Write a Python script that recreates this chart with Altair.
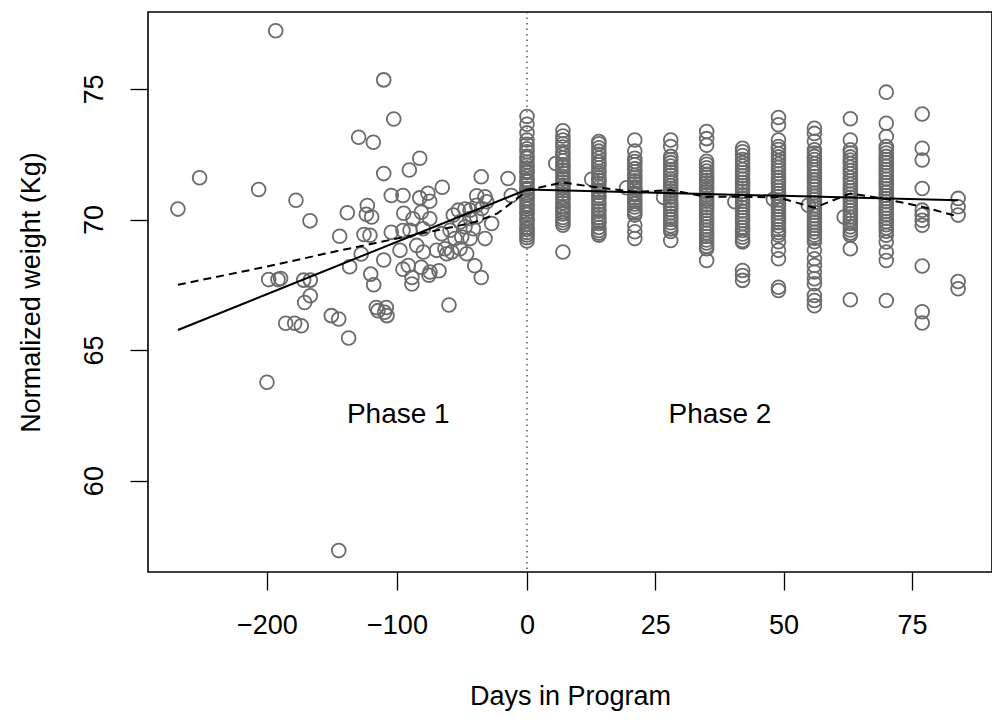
import altair as alt
import pandas as pd

# ---------------- data (days, normalized weight in kg) ----------------
phase1_days = [-268.5, -251.8, -206.4, -193.3, -177.7, -166.9, -138.2, -122.8, -123.6, -144.1,
               -125.4, -129.5, -118.2, -110.2, -102.5, -82.5, -90.5, -110.2, -104.4, -95.4,
               -82.5, -76.2, -74.8, -65.2, -35.2, -14.6, -12.1, -94.8, -81.3, -87.7,
               -74.8, -104.4, -95.4, -127.5, -136.4, -110.2, -120.2, -117.9, -95.4, -88.5,
               -88.5, -81.3, -75.4, -67.7, -40.2, -35.2, -198.7, -191.5, -189.5, -171.8,
               -166.7, -166.7, -171.0, -60.0, -115.9, -108.2, -185.6, -178.7, -173.6, -150.5,
               -144.8, -114.6, -109.5, -107.7, -137.2, -200.0, -144.8, -38.7, -32.3, -56.7,
               -52.8, -47.7, -43.8, -38.7, -34.8, -31.0, -51.5, -43.8, -38.7, -47.7,
               -41.3, -27.2, -90.0, -79.8, -65.6, -59.2, -55.4, -50.2, -43.8, -32.3,
               -97.7, -84.8, -79.8, -69.5, -63.1, -57.9, -51.5, -46.4, -61.8, -91.3,
               -74.6, -119.5, -120.8]
phase1_weights = [70.40, 71.60, 71.15, 77.23, 70.74, 69.95, 70.26, 70.54, 70.20, 69.36,
                  69.43, 73.15, 72.96, 75.35, 73.85, 72.35, 71.90, 71.76, 70.92, 70.92,
                  70.83, 71.01, 70.70, 71.24, 71.64, 71.57, 70.92, 70.24, 70.28, 70.03,
                  70.03, 69.51, 69.58, 68.68, 68.19, 68.45, 67.91, 67.50, 68.10, 67.78,
                  67.53, 68.17, 67.87, 68.04, 68.23, 67.78, 67.70, 67.70, 67.74, 67.68,
                  67.68, 67.08, 66.82, 66.73, 66.63, 66.63, 66.03, 66.03, 65.93, 66.32,
                  66.19, 66.51, 66.45, 66.32, 65.46, 63.77, 57.32, 70.91, 70.87, 70.17,
                  70.36, 70.40, 70.36, 70.55, 70.42, 70.68, 69.91, 70.04, 70.10, 69.72,
                  69.65, 69.85, 69.59, 69.65, 69.46, 69.59, 69.27, 69.33, 69.27, 69.27,
                  68.82, 69.01, 68.76, 68.82, 68.88, 68.76, 68.88, 68.69, 68.69, 68.24,
                  67.99, 70.10, 69.40]

w_day0 = [73.95, 73.65, 73.32, 73.05, 72.88, 72.71, 72.6, 72.42, 72.35, 72.2, 72.08, 71.97,
          71.85, 71.8, 71.66, 71.52, 71.45, 71.33, 71.2, 71.15, 71.02, 70.94, 70.81, 70.73,
          70.6, 70.52, 70.4, 70.28, 70.19, 70.05, 69.96, 69.84, 69.7, 69.62, 69.5, 69.41,
          69.3, 69.18]
w_day7 = [73.4, 73.2, 73.05, 72.9, 72.78, 72.6, 72.5, 72.37, 72.25, 72.1, 72.02, 71.9, 71.78,
          71.65, 71.55, 71.44, 71.3, 71.22, 71.1, 70.98, 70.85, 70.77, 70.64, 70.5, 70.42,
          70.3, 70.21, 70.08, 69.98, 69.88, 69.78, 68.76]
w_day14 = [72.99, 72.9, 72.75, 72.62, 72.5, 72.36, 72.2, 72.11, 71.98, 71.85, 71.76, 71.6,
           71.5, 71.38, 71.25, 71.12, 71.04, 70.9, 70.8, 70.66, 70.55, 70.4, 70.32, 70.2,
           70.07, 69.95, 69.85, 69.7, 69.58, 69.48, 69.4]
w_day21 = [73.05, 72.62, 72.35, 72.22, 72.1, 71.95, 71.83, 71.7, 71.6, 71.48, 71.37, 71.25,
           71.15, 71.02, 70.95, 70.82, 70.7, 70.6, 70.48, 70.35, 70.25, 70.17, 69.78, 69.53,
           69.27]
w_day28 = [73.05, 72.8, 72.42, 72.3, 72.18, 72.05, 71.92, 71.82, 71.7, 71.55, 71.45, 71.3,
           71.2, 71.1, 70.98, 70.86, 70.72, 70.6, 70.5, 70.38, 70.25, 70.12, 70.0, 69.88,
           69.75, 69.64, 69.54, 69.2]
w_day35 = [73.37, 73.1, 72.85, 72.23, 72.12, 71.98, 71.86, 71.73, 71.62, 71.5, 71.4, 71.28,
           71.15, 71.05, 70.93, 70.8, 70.7, 70.58, 70.45, 70.35, 70.22, 70.1, 69.98, 69.85,
           69.72, 69.6, 69.48, 69.35, 69.22, 69.1, 68.98, 68.88, 68.43]
w_day42 = [72.73, 72.6, 72.45, 72.3, 72.18, 72.05, 71.92, 71.8, 71.68, 71.55, 71.42, 71.3,
           71.2, 71.08, 70.95, 70.82, 70.7, 70.58, 70.46, 70.33, 70.2, 70.08, 69.96, 69.84,
           69.7, 69.58, 69.45, 69.32, 69.2, 69.14, 68.05, 67.86, 67.67]
w_day49 = [73.91, 73.63, 73.05, 72.8, 72.68, 72.52, 72.4, 72.25, 72.12, 72.0, 71.88, 71.75,
           71.62, 71.5, 71.38, 71.25, 71.12, 71.0, 70.88, 70.75, 70.62, 70.5, 70.38, 70.25,
           70.12, 70.0, 69.88, 69.75, 69.62, 69.5, 69.4, 69.15, 68.82, 68.5, 67.41, 67.28]
w_day56 = [73.5, 73.3, 73.0, 72.67, 72.55, 72.42, 72.3, 72.15, 72.02, 71.9, 71.78, 71.65,
           71.52, 71.4, 71.28, 71.15, 71.02, 70.9, 70.78, 70.65, 70.52, 70.4, 70.28, 70.15,
           70.02, 69.9, 69.78, 69.65, 69.52, 69.4, 69.28, 69.15, 68.82, 68.5, 68.24, 67.99,
           67.73, 67.54, 67.09, 66.9, 66.7]
w_day63 = [73.86, 73.05, 72.67, 72.55, 72.4, 72.28, 72.15, 72.0, 71.88, 71.75, 71.6, 71.48,
           71.35, 71.22, 71.1, 70.98, 70.85, 70.72, 70.6, 70.48, 70.35, 70.22, 70.1, 69.98,
           69.85, 69.72, 69.6, 69.48, 69.4, 68.88, 66.93]
w_day70 = [74.88, 73.69, 73.18, 72.8, 72.68, 72.55, 72.42, 72.3, 72.18, 72.05, 71.92, 71.8,
           71.68, 71.55, 71.42, 71.3, 71.18, 71.05, 70.92, 70.8, 70.68, 70.55, 70.42, 70.3,
           70.18, 70.05, 69.92, 69.8, 69.68, 69.55, 69.4, 69.14, 68.76, 68.43, 66.9]
w_day77 = [74.04, 72.73, 72.28, 71.19, 70.36, 70.17, 69.97, 69.78, 68.22, 66.47, 66.04]
w_day84 = [70.81, 70.49, 70.17, 67.63, 67.35]

offcol_days = [5.6, 12.6, 19.4, 26.6, 40.5, 48.0, 54.8, 61.8]
offcol_weights = [72.15, 71.54, 71.22, 70.85, 70.68, 70.78, 70.55, 70.10]

# fitted lines
solid_days = [-268.5, 0, 84]
solid_weights = [65.77, 71.15, 70.74]
dashed_days = [-268.5, -200, -150, -113, -70, -40, -23, -13, -3, 0,
               7, 14, 21, 28, 35, 42, 49, 56, 63, 70, 77, 84]
dashed_weights = [67.5, 68.2, 68.75, 69.14, 69.58, 69.9, 70.23, 70.6, 70.98, 71.13,
                  71.42, 71.22, 71.06, 71.13, 70.87, 70.87, 70.85, 70.45, 71.0, 70.78, 70.49, 70.12]

phase_labels = ["Phase 1", "Phase 2"]
phase_label_days = [-99, 37.6]
phase_label_weights = [62.5, 62.5]

x_ticks = [-200, -100, 0, 25, 50, 75]
y_ticks = [60, 65, 70, 75]

# ---------------- build tables ----------------
columns = {0: w_day0, 7: w_day7, 14: w_day14, 21: w_day21, 28: w_day28, 35: w_day35,
           42: w_day42, 49: w_day49, 56: w_day56, 63: w_day63, 70: w_day70, 77: w_day77,
           84: w_day84}
rows = [{"day": d, "kg": w} for d, w in zip(phase1_days, phase1_weights)]
for d, ws in columns.items():
    rows += [{"day": d, "kg": w} for w in ws]
rows += [{"day": d, "kg": w} for d, w in zip(offcol_days, offcol_weights)]
pts = pd.DataFrame(rows)

solid = pd.DataFrame({"day": solid_days, "kg": solid_weights})
dashed = pd.DataFrame({"day": dashed_days, "kg": dashed_weights})
labels = pd.DataFrame({"day": phase_label_days, "kg": phase_label_weights, "txt": phase_labels})
zero = pd.DataFrame({"day": [0]})

FONT = "Liberation Sans"

xenc = alt.X("day:Q",
             scale=alt.Scale(domain=[-291.5, 0, 90.6], range=[0, 379, 844], zero=False, nice=False),
             axis=alt.Axis(values=x_ticks, title="Days in Program", labelPadding=22,
                           titlePadding=45, labelFlush=False))
yenc = alt.Y("kg:Q",
             scale=alt.Scale(domain=[56.5, 77.95], zero=False, nice=False),
             axis=alt.Axis(values=y_ticks, title="Normalized weight (Kg)", labelAngle=270,
                           labelAlign="center", labelBaseline="bottom", labelPadding=22,
                           titlePadding=35, labelFlush=False))

points = alt.Chart(pts).mark_point(shape="circle", filled=False, size=190, strokeWidth=1.8,
                                   color="#6b6b6b", opacity=1).encode(x=xenc, y=yenc)
vline = alt.Chart(zero).mark_rule(color="#444444", strokeWidth=1.3,
                                  strokeDash=[1.5, 4]).encode(x=xenc)
solid_line = alt.Chart(solid).mark_line(color="black", strokeWidth=2).encode(x=xenc, y=yenc)
dashed_line = alt.Chart(dashed).mark_line(color="black", strokeWidth=2,
                                          strokeDash=[8, 5]).encode(x=xenc, y=yenc)
text = alt.Chart(labels).mark_text(font=FONT, fontSize=28, color="black").encode(
    x=xenc, y=yenc, text="txt:N")

chart = alt.layer(vline, points, solid_line, dashed_line, text).properties(
    width=844, height=560,
    padding={"left": 140, "top": 4, "right": 0, "bottom": 140},
    autosize=alt.AutoSizeParams(type="none"),
    background="white",
).configure_view(stroke="black", strokeWidth=1.6).configure_axis(
    grid=False, domain=False, tickColor="black", tickWidth=1.3, tickSize=18,
    labelFont=FONT, labelFontSize=27, labelColor="black",
    titleFont=FONT, titleFontSize=27, titleFontWeight="normal", titleColor="black",
)

chart.save("out.html", embed_options={"renderer": "svg", "actions": False})
